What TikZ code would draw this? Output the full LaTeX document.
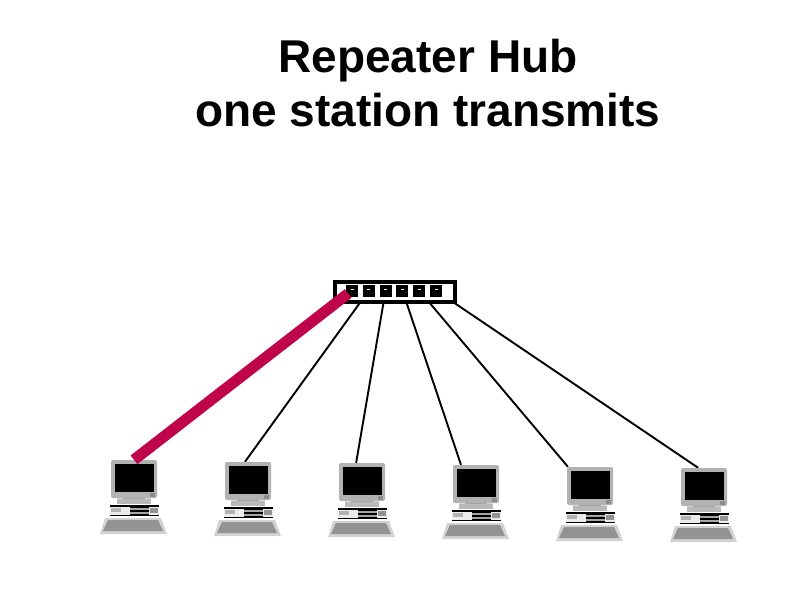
\documentclass[tikz,border=0pt]{standalone}
\usepackage{fontspec}
\usepackage{xcolor}
\setmainfont{Liberation Sans}
\usetikzlibrary{backgrounds}
\definecolor{signalred}{HTML}{C0044C}
\tikzset{
    port/.style={rectangle, fill=black, minimum width=12pt, minimum height=12pt, inner sep=0pt,
        path picture={\fill[white] (path picture bounding box.center)++(-1.5,-1.5) rectangle ++(3,1);}},
    wire/.style={line width=1.9pt},
    hotwire/.style={line width=11pt, signalred},
    computer/.pic={
        \node[rectangle, rounded corners=2pt, fill=gray!60, minimum width=46pt, minimum height=38pt, inner sep=0pt] (-monitor) at (0,19) {};
        \fill[black] (-19,4) rectangle (20,32);
        \fill[gray!90] (16,33) rectangle (21,36.5);
        \fill[gray!30] (-17,38) rectangle (17,44);
        \fill[gray!70] (-11,37.5) rectangle (11,39);
        \fill[gray!55] (-17,39) rectangle (17,44);
        \fill[gray!15] (-24,45) rectangle (25,56);
        \fill[black] (-24,45) rectangle (25,46.5);
        \fill[black] (-24,54.5) rectangle (25,56);
        \fill[gray!70] (-4,45) rectangle (15,56);
        \fill[black] (-4,45) rectangle (15,47.5);
        \fill[black] (-4,50) rectangle (15,51.5);
        \fill[black] (-4,54) rectangle (15,56);
        \fill[gray!60] (-23,48) rectangle (-13,52);
        \fill[gray!85] (16,48) rectangle (24,52.5);
        \fill[gray!35] (-29,58) -- (27,58) -- (33,74) -- (-34,74) -- cycle;
        \fill[gray!85] (-26,60) -- (24,60) -- (29,71) -- (-31,71) -- cycle;
    }
}

\begin{document}
\begin{tikzpicture}[x=1pt, y=-1pt, node distance=16.8pt]
    \useasboundingbox (0,0) rectangle (792,612);
    \node[align=center, font=\fontsize{46}{54}\selectfont\bfseries] (title) at (428,83.5) {Repeater Hub\\one station transmits};

    \node[rectangle, draw, line width=4pt, fill=white, minimum width=120pt, minimum height=20pt, inner sep=0pt] (hub) at (395,292) {};
    \node[port] (p1) at (352,290.5) {};
    \node[port, right of=p1] (p2) {};
    \node[port, right of=p2] (p3) {};
    \node[port, right of=p3] (p4) {};
    \node[port, right of=p4] (p5) {};
    \node[port, right of=p5] (p6) {};

    \pic (pc1) at (134,460) {computer};
    \pic (pc2) at (248,462) {computer};
    \pic (pc3) at (362,463) {computer};
    \pic (pc4) at (476,465) {computer};
    \pic (pc5) at (590,467) {computer};
    \pic (pc6) at (704,468) {computer};

    \begin{scope}[on background layer]
        \draw[wire] (p2) -- (pc2-monitor.99);
        \draw[wire] (p3) -- (pc3-monitor.107);
        \draw[wire] (p4) -- (pc4-monitor.128);
        \draw[wire] (p5) -- (pc5-monitor.139);
        \draw[wire] (p6) -- (pc6-monitor.107);
    \end{scope}
    \draw[hotwire, shorten <=-3pt] (p1) -- (pc1-monitor.north);
\end{tikzpicture}
\end{document}
